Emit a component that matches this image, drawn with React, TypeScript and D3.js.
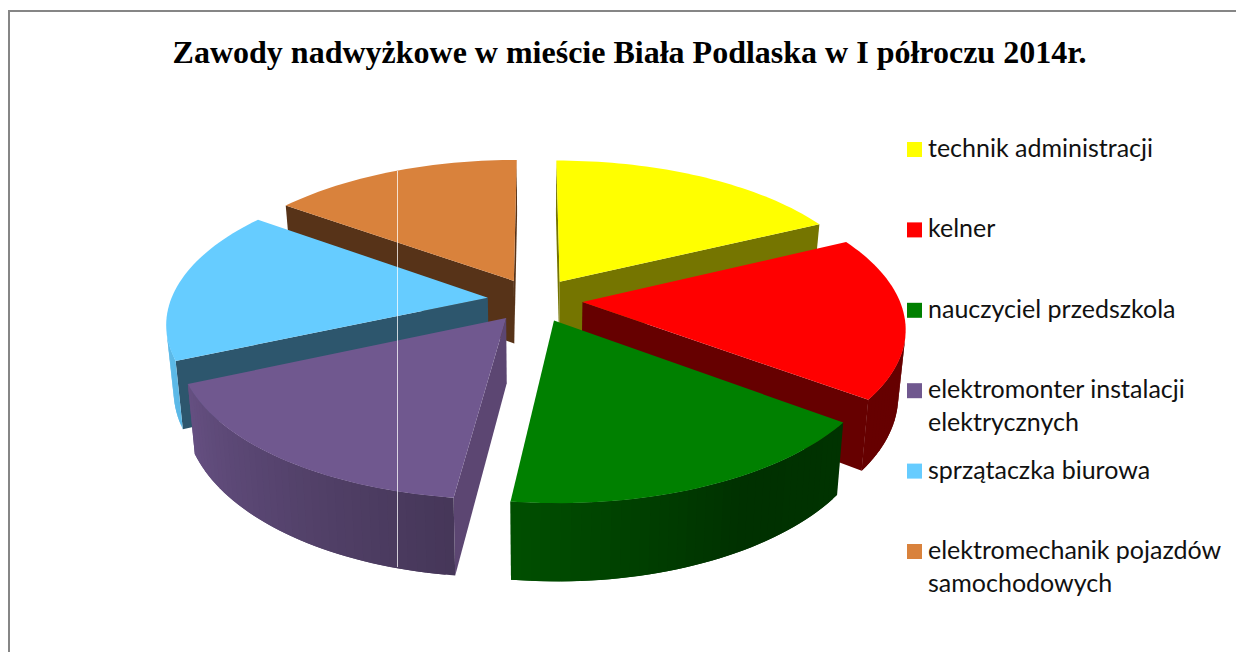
import React from "react";
import * as d3 from "d3";

const titleText = "Zawody nadwyżkowe w mieście Biała Podlaska w I półroczu 2014r.";
const categories = [
  ["technik administracji"],
  ["kelner"],
  ["nauczyciel przedszkola"],
  ["elektromonter instalacji", "elektrycznych"],
  ["sprzątaczka biurowa"],
  ["elektromechanik pojazdów", "samochodowych"],
];
const values = [64, 63, 60, 59, 60, 54];
const topColors = ["#FFFF00", "#FF0000", "#008000", "#70588F", "#66CCFF", "#D9823C"];
const wallColors = ["#757500", "#660000", "#003300", "#5C4672", "#2D566D", "#573318"];

const W = 1236, H = 652;
const cx = 535, cy = 300, R = 317, Ry = 146, persp = 0.16, depth = 64, shrink = 0.02, explode = 0.15;

const project = (u: number, v: number, z: number): [number, number] => {
  const s = 1 / (1 + persp * v);
  return [cx + R * u * s * (1 - shrink * z), cy - Ry * v * s + depth * z * s];
};

// rim brightness against clock angle in degrees
const rimTone = d3.scaleLinear().domain([0, 127, 150, 187, 245, 280, 360]).range([0.4, 0.4, 0.38, 0.62, 0.9, 0.95, 0.95]).clamp(true);

const pie = d3.pie<number>().sort(null).startAngle(0).endAngle(2 * Math.PI);
const arcs = pie(values);
const line = d3.line();

type Face = { d: string; fill: string };

function sliceFaces(i: number) {
  const a = arcs[i];
  const mid = (a.startAngle + a.endAngle) / 2;
  const ou = explode * Math.sin(mid), ov = explode * Math.cos(mid);
  const rim = (t: number, z: number) => project(ou + Math.sin(t), ov + Math.cos(t), z);
  const apex = (z: number) => project(ou, ov, z);
  const n = Math.ceil((a.endAngle - a.startAngle) / (Math.PI / 180) / 1.5);
  const ts = d3.range(n + 1).map((k) => a.startAngle + ((a.endAngle - a.startAngle) * k) / n);
  const faces: Face[] = [];
  const wall = (p0: [number, number], p1: [number, number], q1: [number, number], q0: [number, number], fill: string) => {
    const poly = [p0, p1, q1, q0] as [number, number][];
    if ((d3.polygonArea(poly) as number) > 0) faces.push({ d: line(poly)! + "Z", fill });
  };
  wall(apex(0), rim(a.startAngle, 0), rim(a.startAngle, 1), apex(1), wallColors[i]);
  wall(rim(a.endAngle, 0), apex(0), apex(1), rim(a.endAngle, 1), wallColors[i]);
  const base = d3.rgb(topColors[i]);
  for (let k = 0; k < n; k++) {
    const tone = rimTone(((ts[k] + ts[k + 1]) / 2) * (180 / Math.PI));
    const c = d3.rgb(base.r * tone, base.g * tone, base.b * tone).formatHex();
    // each strip runs under the next one so that no seam shows between them
    const tail = ts[Math.min(k + 2, n)];
    wall(rim(ts[k], 0), rim(tail, 0), rim(tail, 1), rim(ts[k], 1), c);
  }
  const top = [apex(0), ...ts.map((t) => rim(t, 0))] as [number, number][];
  faces.push({ d: line(top)! + "Z", fill: topColors[i] });
  return { order: ov, faces, i };
}

const slices = values.map((_, i) => sliceFaces(i)).sort((p, q) => q.order - p.order);

const legendY = d3.scaleLinear().domain([0, 5]).range([142, 544]);

export default function App() {
  return (
    <svg width={W} height={H} style={{ position: "absolute", left: 0, top: 0, background: "#fff" }}>
      <rect x={9} y={11} width={W + 20} height={H + 20} fill="#fff" stroke="#868686" strokeWidth={2} />
      <text x={629.5} y={63} textAnchor="middle" fontFamily="'Liberation Serif'" fontWeight="bold" fontSize={32} fill="#000">
        {titleText}
      </text>
      {slices.map((s) => (
        <g key={s.i}>
          {s.faces.map((f, j) => (
            <path key={j} d={f.d} fill={f.fill} />
          ))}
        </g>
      ))}
      <line x1={397.5} x2={397.5} y1={171} y2={567} stroke="#fff" strokeOpacity={0.75} strokeWidth={1} />
      {categories.map((lines, i) => (
        <g key={i}>
          <rect x={907} y={legendY(i)} width={15} height={15} fill={topColors[i]} />
          {lines.map((t, j) => (
            <text key={j} x={928} y={legendY(i) + 15 + j * 33} fontFamily="Lato" fontSize={25} fill="#111">
              {t}
            </text>
          ))}
        </g>
      ))}
    </svg>
  );
}
